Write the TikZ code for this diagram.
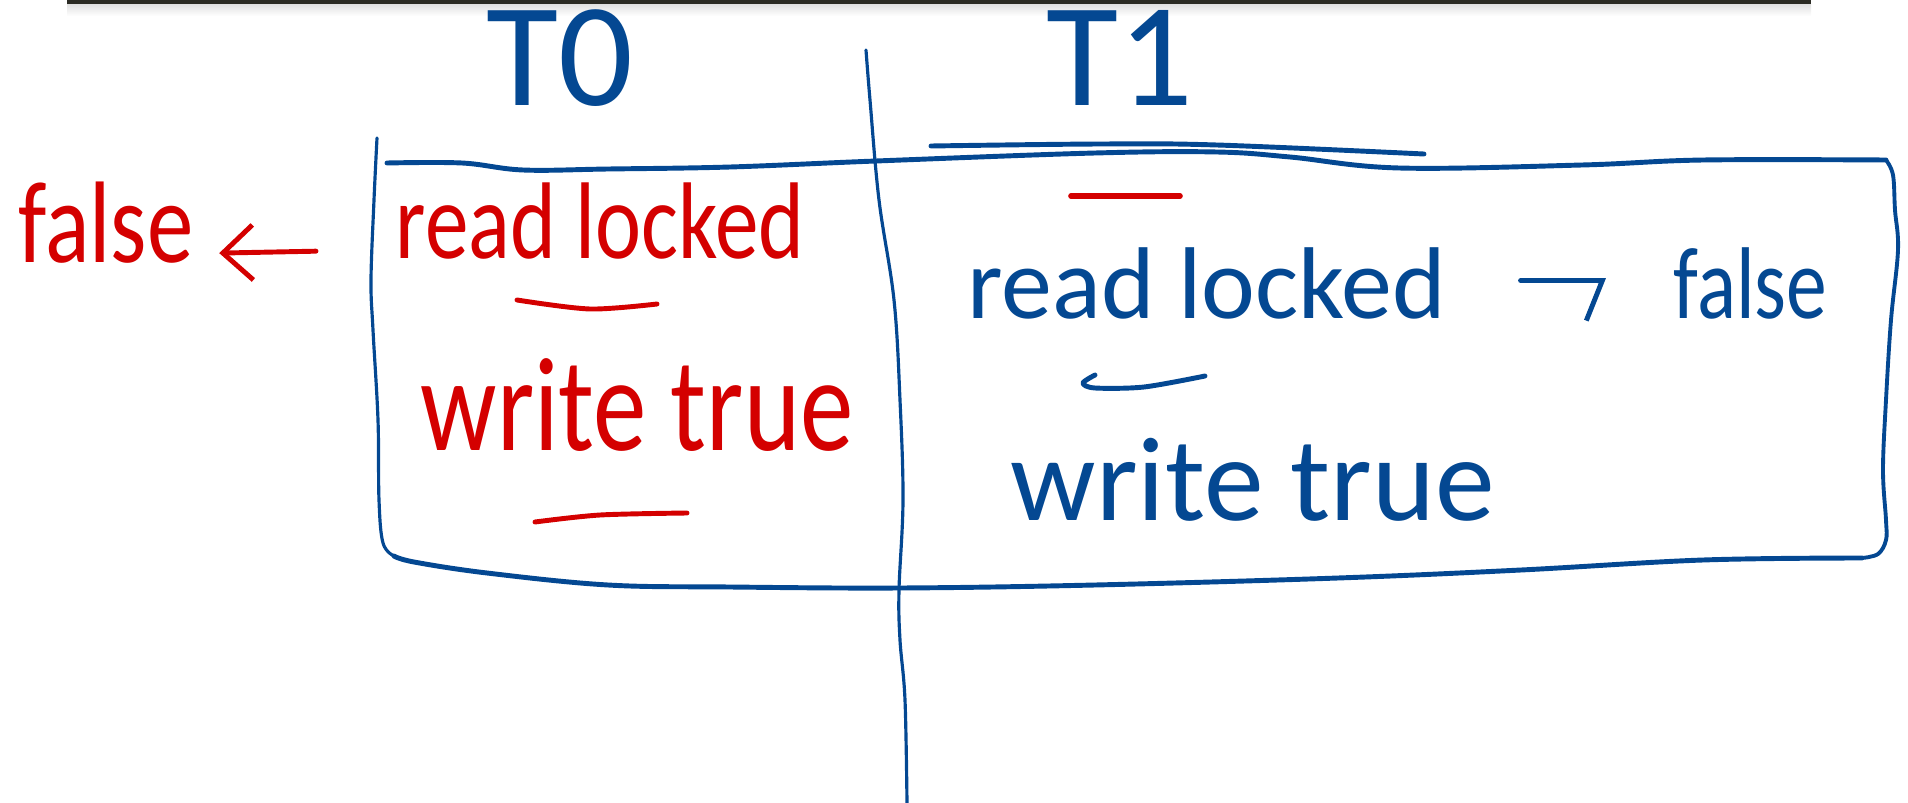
\documentclass[tikz,border=0pt]{standalone}
\usepackage{fontspec}
\setmainfont{Carlito}
\newfontfamily\narrowpen{Carlito}[FakeStretch=0.8]
\usepackage{xcolor}
\usepackage{tikz}
\usetikzlibrary{arrows.meta, positioning}

\definecolor{penblue}{RGB}{4,72,146}
\definecolor{penred}{RGB}{212,0,0}
\definecolor{barcol}{RGB}{43,43,36}

\tikzset{
  bluepen/.style={draw=penblue, line cap=round, line join=round},
  redpen/.style={draw=penred, line cap=round, line join=round},
  hand/.style={inner sep=0pt, anchor=base west},
}
\newcommand{\fsz}[1]{\fontsize{#1}{#1}\selectfont}

\begin{document}
\begin{tikzpicture}[x=0.01cm, y=-0.01cm]
\useasboundingbox (0,0) rectangle (1908,803);
\begin{scope}
  % bar at the top
  \shade[top color=black!12, bottom color=white] (67,4) rectangle (1811,16);
  \fill[barcol] (67,0) rectangle (1811,4);
  % box
  \draw[bluepen, line width=1.4pt] plot[smooth, tension=0.6] coordinates
    {(387,163) (462,163) (523,170) (608,169) (730,167) (876,161) (1095,153)
     (1217,152) (1290,157) (1399,168) (1582,165) (1703,160) (1886,160)};
  \draw[bluepen, line width=1.4pt] plot[smooth, tension=0.6] coordinates
    {(931,146) (1100,144) (1217,145) (1424,154)};
  \draw[bluepen, line width=1.1pt] plot[smooth, tension=0.6] coordinates
    {(1886,160) (1893,175) (1895,210) (1898,250) (1891,320) (1886,400)
     (1883,470) (1886,520) (1886,540) (1878,554) (1862,558)};
  \draw[bluepen, line width=1.4pt] plot[smooth, tension=0.6] coordinates
    {(1862,558) (1703,560) (1521,570) (1338,578) (1095,585) (900,588)
     (730,587) (608,585) (487,573) (414,562) (394,556)};
  \draw[bluepen, line width=0.9pt] plot[smooth, tension=0.6] coordinates
    {(394,556) (383,543) (379,500) (378,420) (373,330) (371,280)
     (374,200) (377,138)};
  % divider
  \draw[bluepen, line width=0.9pt] plot[smooth, tension=0.6] coordinates
    {(866,50) (870,100) (879,200) (894,300) (900,400) (903,500)
     (899,590) (900,640) (905,700) (907,803)};
\end{scope}

% threads
\node[hand, anchor=center, text=penblue, font=\fsz{42pt}] (t0) at (560,58) {T0};
\node[hand, anchor=center, text=penblue, font=\fsz{42pt}] (t1) at (1120,58) {T1};

% T0 side
\node[hand, text=penred, font=\narrowpen\fsz{33pt}] (rfalse) at (18,262) {false};
\node[hand, text=penred, font=\narrowpen\fsz{31pt}] (rread) at (395,258) {read locked};
\node[hand, text=penred, font=\narrowpen\fsz{38pt}] (rwrite) at (420,450) {write true};
\draw[redpen, line width=1.4pt, shorten <=0.79cm, shorten >=0.25cm,
  -{Straight Barb[length=0.3cm, width=0.55cm]}] (rread.mid west) -- (rfalse.mid east);
\draw[redpen, line width=1.4pt] plot[smooth] coordinates {(517,300) (590,309) (657,304)};
\draw[redpen, line width=1.4pt] plot[smooth] coordinates {(535,522) (600,515) (687,513)};

% T1 side
\draw[redpen, line width=1.6pt] (1071,196) -- (1180,196);
\node[hand, text=penblue, font=\fsz{29pt}] (bread) at (967,318) {read locked};
\node[hand, text=penblue, font=\narrowpen\fsz{29pt}] (bfalse) at (1673,318) {false};
\node[hand, text=penblue, font=\fsz{34pt}] (bwrite) at (1010,520) {write true};
\draw[bluepen, line width=1.4pt, shorten <=0.74cm, shorten >=0.67cm,
  -{Straight Barb[right, length=0.16cm, width=0.8cm]}]
  ([yshift=0.29cm]bread.mid east) -- ([yshift=0.29cm]bfalse.mid west);
\draw[bluepen, line width=1.4pt] plot[smooth] coordinates
  {(1095,375) (1083,383) (1095,388) (1144,387) (1205,376)};
\end{tikzpicture}
\end{document}
